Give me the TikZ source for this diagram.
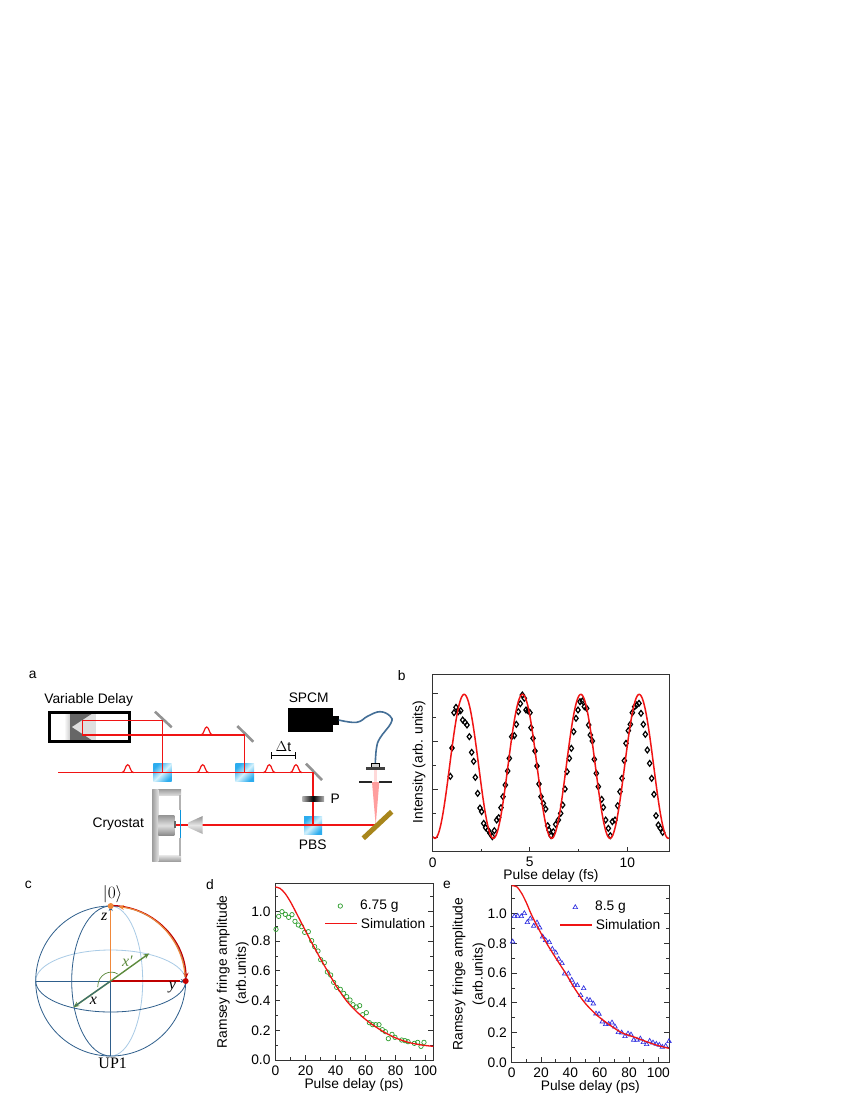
\documentclass[tikz,border=0pt]{standalone}
\usepackage{fontspec}
\setmainfont{Liberation Sans}
\newfontfamily\serifl{Liberation Serif}
\usetikzlibrary{arrows.meta,plotmarks,calc}
\definecolor{beam}{HTML}{F01414}
\definecolor{sph}{HTML}{2F5F8C}
\definecolor{sphl}{HTML}{A9CBE6}
\definecolor{oran}{HTML}{F0883A}
\definecolor{dred}{HTML}{C00000}
\definecolor{gre}{HTML}{5C8A3C}
\definecolor{axisc}{HTML}{333333}
\definecolor{dgreen}{HTML}{2E9E2E}
\definecolor{tblue}{HTML}{3030E0}
\definecolor{goldc}{HTML}{A8861C}
\definecolor{cubea}{HTML}{2CACEE}
\definecolor{cubeb}{HTML}{D4F1FC}
\tikzset{
 lab/.style={inner sep=0pt,font=\fontsize{13.8}{15}\selectfont},
 ser/.style={inner sep=0pt,font=\fontsize{16}{17}\selectfont\serifl},
 ray/.style={draw=beam,line width=1.4pt},
 rayb/.style={draw=beam,line width=1.5pt},
 ax/.style={draw=axisc,line width=0.9pt},
 cube/.style={top color=cubea,bottom color=cubea,middle color=cubeb,shading angle=45},
 mirror/.style={draw=gray!85,line width=2.6pt},
 simc/.style={draw=beam,line width=1.3pt},
 pics/pulse/.style={code={\draw[beam,line width=1.2pt] (-6,0) .. controls (-2.5,0) and (-2.5,-8) .. (0,-8) .. controls (2.5,-8) and (2.5,0) .. (6,0);}},
}
\begin{document}
\begin{tikzpicture}[x=1pt,y=-1pt]
\useasboundingbox (0,0) rectangle (850,1100);
\fill[white] (0,0) rectangle (850,1100);
% panel letters
\node[lab] (la) at (32.7,675) {a};
\node[lab] (lb) at (401.7,676) {b};
\node[lab] (lc) at (28.3,885) {c};
\node[lab] (ld) at (210,885) {d};
\node[lab] (le) at (447,885) {e};
% ---- panel a
\node[lab] (vd) at (88.7,700) {Variable Delay};
\shade[left color=white,right color=gray!40] (64,714) rectangle (70,740);
\fill[gray!25] (70,714) rectangle (96,740);
\fill[black!60] (70,714) -- (91.5,714) -- (71.7,727) -- (91.5,740) -- (70,740) -- cycle;
\draw[line width=3pt] (49.8,712.5) rectangle (129.2,741.8);
% cubes
\shade[cube] (153.3,763.3) rectangle (171.7,781.7);
\shade[cube] (235.3,763.3) rectangle (254,781.7);
\shade[cube] (304,816) rectangle (322,834.3);
% mirrors
\draw[mirror] (155,711.7) -- (171.7,727.3);
\draw[mirror] (237.3,726) -- (253.3,741.7);
\draw[mirror] (306,763.7) -- (322,780);
% beams
\coordinate (m0) at (58.3,772.7);
\coordinate (m1) at (162.3,772.7);
\coordinate (m2) at (244.3,772.7);
\coordinate (m3) at (313,772.7);
\coordinate (t1) at (162.3,720.7);
\coordinate (r1) at (82.7,720.7);
\coordinate (r2) at (82.7,735);
\coordinate (t2) at (244.3,735);
\coordinate (b1) at (313,825);
\coordinate (b2) at (375.7,825);
\coordinate (b3) at (202,825);
\coordinate (b4) at (176,825);
\coordinate (b5) at (188.5,825);
\draw[ray] (m0) -- (m3) -- (b1);
\draw[ray] (m1) -- (t1) -- (r1) -- (r2) -- (t2) -- (m2);
\draw[rayb] (b3) -- (b2);
\draw[rayb] (b4) -- (b5);
\pic at (127.7,772.7) {pulse};
\pic at (202.7,772.7) {pulse};
\pic at (206.7,735) {pulse};
\pic at (269.3,772.7) {pulse};
\pic at (296,772.7) {pulse};
% Delta t
\node[lab] (dt) at (283.3,747) {$\Delta$t};
\coordinate (dt1) at (270.7,755.7);
\coordinate (dt2) at (296,755.7);
\draw[line width=1.1pt,{Bar[width=7pt]}-{Bar[width=7pt]}] (dt1) -- (dt2);
% P
\shade[left color=gray!60,right color=gray!60,middle color=black] (302.3,796) rectangle (324,801.7);
\node[lab] (pp) at (335.3,798.3) {P};
\node[lab] (pbs) at (312.7,845) {PBS};
% SPCM
\node[lab] (spcm) at (308.7,698) {SPCM};
\fill[black] (288.3,708.3) rectangle (332.7,731.7);
\fill[black] (332.7,716) rectangle (338.7,725);
\draw[line width=1.6pt,color=sph!90!white] plot[smooth,tension=0.7] coordinates {(338.7,720) (356.7,722.3) (368,716) (380,711.7) (390,716) (391,723) (380,738) (376.5,748) (375.3,763.5)};
% pinhole optics
\fill[pink!70!red!80] (372,782) -- (379.3,782) -- (375.7,825) -- cycle;
\fill[pink!60] (374.3,769) rectangle (376.9,782);
\fill[gray!35] (371.5,763.5) rectangle (379.3,767);
\draw[black,line width=0.5pt] (371.5,763.5) rectangle (379.3,767);
\fill[black!75] (366,767) rectangle (385,769.5);
\fill[black!85] (359.3,781) rectangle (372,783.3);
\fill[black!85] (379.3,781) rectangle (391.7,783.3);
\draw[line width=5pt,color=goldc] (363.3,838.3) -- (391.7,811.7);
% Cryostat
\node[lab] (cry) at (118.3,824.3) {Cryostat};
\shade[top color=gray!75,bottom color=gray!25] (152.3,789.3) rectangle (181,795.7);
\shade[top color=gray!25,bottom color=gray!75] (152.3,855.7) rectangle (181,861);
\shade[left color=gray!75,right color=gray!25] (152.3,789.3) rectangle (158.3,861);
\fill[gray!60] (178.7,795) rectangle (181,810);
\fill[gray!60] (178.7,838.3) rectangle (181,856);
\draw[cyan!80!blue,line width=0.8pt] (180.3,810) -- (180.3,838.3);
\shade[top color=gray!80,bottom color=gray!90,middle color=gray!25] (158.3,815.7) rectangle (174.3,835);
\fill[black!60] (174.3,821) rectangle (176,828.3);
\shade[top color=gray!85,bottom color=gray!70,middle color=gray!20] (188.3,822.5) -- (202.7,816) -- (202.7,834) -- (188.3,827.5) -- cycle;
% ---- panel b
\draw[ax] (432.7,674.3) rectangle (669,851.7);
\foreach \yy in {693.7,741.7,789.3,837.7} \draw[ax] (432.7,\yy) -- (437.5,\yy);
\foreach \yy in {717.7,765.7,813.7} \draw[ax] (432.7,\yy) -- (435.7,\yy);
\foreach \xx in {432.7,529.9,627.1} \draw[ax] (\xx,851.7) -- (\xx,846.7);
\foreach \xx in {481.3,578.5} \draw[ax] (\xx,851.7) -- (\xx,848.7);
\node[lab] (bx0) at (432.7,862.3) {0};
\node[lab] (bx5) at (529.7,862.3) {5};
\node[lab] (bx10) at (627.3,862.3) {10};
\node[lab] (bxl) at (551,875.7) {Pulse delay (fs)};
\node[lab,rotate=90] (byl) at (419,762) {Intensity (arb. units)};
\begin{scope}[shift={(395,665)},x=0.33333pt,y=-0.33333pt]
\draw[black,line width=1.2pt] plot[only marks,mark=diamond,mark size=2.9pt,mark options={draw=black,fill=none,line width=1.2pt}] coordinates {(166,334) (171,249) (177,143) (183,127) (190,140) (197,137) (203,165) (210,172) (216,180) (223,215) (230,262) (236,289) (241,337) (248,385) (255,429) (260,440) (266,475) (272,488) (279,495) (285,505) (292,515) (298,497) (305,465) (311,458) (318,428) (324,395) (331,360) (338,318) (343,280) (350,215) (358,212) (364,178) (370,140) (376,116) (382,90) (388,100) (393,135) (399,137) (405,143) (408,188) (414,220) (420,258) (426,303) (432,357) (438,395) (445,415) (452,432) (458,482) (462,495) (468,512) (475,500) (482,478) (490,465) (497,445) (503,420) (510,372) (516,320) (523,280) (529,250) (536,200) (543,160) (549,135) (555,110) (562,108) (568,125) (575,130) (581,180) (586,210) (592,228) (598,283) (604,325) (610,365) (620,403) (625,427) (632,465) (640,490) (646,512) (652,470) (660,465) (668,422) (675,380) (681,340) (688,287) (693,235) (700,197) (706,178) (712,143) (719,125) (725,120) (732,115) (738,145) (745,178) (751,208) (757,255) (764,295) (770,340) (777,388) (783,452) (790,480) (796,490) (803,502)};
\draw[beam,line width=1.5pt] plot[domain=114:822,samples=240] (\x,{304+216*cos(2.05714*(\x-120))});
\end{scope}
% ---- panel c
\coordinate (C) at (110.7,981);
\coordinate (Ctop) at (110.7,906);
\coordinate (Cbot) at (110.7,1056);
\coordinate (Cl) at (35.7,981);
\coordinate (Cr) at (185.7,981);
\coordinate (Cxp) at (149.3,953.3);
\coordinate (Cx) at (73.3,1007.3);
\draw[sphl,line width=0.8pt] (Cr) arc[start angle=0,end angle=-180,x radius=75,y radius=31];
\draw[sphl,line width=0.8pt] (Ctop) arc[start angle=270,end angle=450,x radius=32,y radius=75];
\draw[sph,line width=0.8pt] (C) circle[radius=75];
\draw[sph,line width=0.8pt] (Cr) arc[start angle=0,end angle=180,x radius=75,y radius=31];
\draw[sph,line width=0.8pt] (Ctop) arc[start angle=270,end angle=90,x radius=39,y radius=75];
\draw[sph,line width=1pt] (Cl) -- (C);
\draw[sph,line width=1.1pt] (C) -- (Cbot);
\draw[sph,line width=1pt,-{Stealth[length=5pt,width=4pt]}] (C) -- (Ctop);
\draw[oran,line width=1.1pt] (C) -- ($(Ctop)+(0,4)$);
\draw[sph,line width=1pt,-{Stealth[length=5pt,width=4pt]}] (C) -- (Cr);
\draw[dred,line width=1.1pt] (C) -- ($(Cr)+(-6,0)$);
\draw[gre,line width=0.7pt] ($(C)+(-13,6)$) .. controls ($(C)+(-13,-7)$) and ($(C)+(0,-12)$) .. ($(C)+(7,-7)$);
\draw[gre,line width=1.4pt,-{Stealth[length=6pt,width=5pt]}] (C) -- (Cxp);
\draw[gre,line width=1.6pt,-{Stealth[length=6pt,width=5pt]}] (C) -- (Cx);
\draw[sph,line width=0.6pt] (C) -- ($(Cx)+(2,-1.5)$);
\draw[dred,line width=1.2pt,-{Stealth[length=5.5pt,width=5pt]}] ($(C)+(0,-75.5)$) arc[start angle=-90,end angle=-2,radius=75.5];
\draw[oran,line width=1.2pt,-{Stealth[length=5.5pt,width=5pt]}] ($(C)+(74.4,-4)$) arc[start angle=-3,end angle=-84,radius=74.5];
\fill[oran] (Ctop) circle[radius=3];
\fill[dred!90!red] (Cr) circle[radius=3];
\node[ser,font=\fontsize{17.3}{18}\selectfont] (ket) at (112.7,894) {$|0\rangle$};
\node[ser] (up1) at (112.7,1063.5) {UP1};
\node[ser] (lz) at (104.3,917) {\itshape z};
\node[ser,text=gre] (lxp) at (127.3,961) {\itshape x′};
\node[ser] (lx) at (93.3,1001) {\itshape x};
\node[ser] (ly) at (172.3,987.7) {\itshape y};
% ---- panel d
\draw[ax] (275.3,883.3) rectangle (433.3,1060);
\foreach \i/\t in {0/0.0,1/0.2,2/0.4,3/0.6,4/0.8,5/1.0}{
 \pgfmathsetmacro{\yy}{1060-29.7*\i}
 \draw[ax] (275.3,\yy) -- (280.3,\yy);
 \draw[ax] (433.3,\yy) -- (428.3,\yy);
 \node[lab,anchor=east] (dy\i) at (270.7,\yy) {\t};
}
\foreach \i in {0,...,5}{
 \pgfmathsetmacro{\yy}{1060-14.85-29.7*\i}
 \draw[ax] (275.3,\yy) -- (278.3,\yy);
 \draw[ax] (433.3,\yy) -- (430.3,\yy);
}
\foreach \i/\t in {0/0,1/20,2/40,3/60,4/80,5/100}{
 \pgfmathsetmacro{\xx}{275.5+30*\i}
 \draw[ax] (\xx,1060) -- (\xx,1055);
 \node[lab] (dx\i) at (\xx,1070.7) {\t};
}
\foreach \i in {0,...,4}{
 \pgfmathsetmacro{\xx}{275.5+15+30*\i}
 \draw[ax] (\xx,1060) -- (\xx,1057);
}
\node[lab] (dxl) at (354,1084.5) {Pulse delay (ps)};
\node[lab,rotate=90] (dyl1) at (223.3,971.7) {Ramsey fringe amplitude};
\node[lab,rotate=90] (dyl2) at (242.3,973) {(arb.units)};
\begin{scope}[shift={(205,875)},x=0.33333pt,y=-0.33333pt]
\draw[dgreen] plot[only marks,mark=o,mark size=2.2pt,mark options={draw=dgreen,line width=0.7pt}] coordinates {(213,163) (221,124) (231,110) (241,118) (251,127) (261,119) (270,139) (280,150) (290,155) (299,172) (310,170) (320,197) (329,215) (339,228) (347,254) (358,263) (367,291) (377,300) (386,322) (395,337) (406,343) (416,355) (425,365) (435,375) (444,389) (454,396) (464,392) (473,419) (484,413) (493,443) (503,449) (512,449) (522,449) (532,464) (541,470) (550,491) (561,478) (570,487) (590,495) (600,497) (609,500) (628,505) (638,502) (648,514) (657,502)};
\draw[simc] plot[smooth] coordinates {(211,36) (225,40) (240,55) (255,78) (272,110) (295,155) (318,199) (343,245) (368,289) (395,335) (425,378) (455,410) (490,440) (530,467) (570,488) (610,502) (650,510) (685,514)};
\end{scope}
\draw[dgreen] plot[only marks,mark=o,mark size=2.2pt,mark options={draw=dgreen,line width=0.7pt}] coordinates {(340.3,906)};
\node[lab,anchor=west] (dleg1) at (360,906) {6.75 g};
\coordinate (dl1) at (325,923.3);
\coordinate (dl2) at (356.7,923.3);
\draw[simc] (dl1) -- (dl2);
\node[lab,anchor=west] (dleg2) at (360.7,923.3) {Simulation};
% ---- panel e
\draw[ax] (511.7,885) rectangle (669,1062.3);
\foreach \i/\t in {0/0.0,1/0.2,2/0.4,3/0.6,4/0.8,5/1.0}{
 \pgfmathsetmacro{\yy}{1062.3-29.73*\i}
 \draw[ax] (511.7,\yy) -- (516.7,\yy);
 \draw[ax] (669,\yy) -- (664,\yy);
 \node[lab,anchor=east] (ey\i) at (507,\yy) {\t};
}
\foreach \i in {0,...,5}{
 \pgfmathsetmacro{\yy}{1062.3-14.87-29.73*\i}
 \draw[ax] (511.7,\yy) -- (514.7,\yy);
 \draw[ax] (669,\yy) -- (666,\yy);
}
\foreach \i/\t in {0/0,1/20,2/40,3/60,4/80,5/100}{
 \pgfmathsetmacro{\xx}{511.7+29.33*\i}
 \draw[ax] (\xx,1062.3) -- (\xx,1057.3);
 \node[lab] (ex\i) at (\xx,1073) {\t};
}
\foreach \i in {0,...,4}{
 \pgfmathsetmacro{\xx}{511.7+14.67+29.33*\i}
 \draw[ax] (\xx,1062.3) -- (\xx,1059.3);
}
\node[lab] (exl) at (590.3,1086.5) {Pulse delay (ps)};
\node[lab,rotate=90] (eyl1) at (459,974) {Ramsey fringe amplitude};
\node[lab,rotate=90] (eyl2) at (479,974) {(arb.units)};
\begin{scope}[shift={(445,875)},x=0.33333pt,y=-0.33333pt]
\draw[tblue] plot[only marks,mark=triangle,mark size=2.6pt,mark options={draw=tblue,line width=0.7pt}] coordinates {(203,200) (208,124) (218,123) (229,124) (238,115) (247,142) (256,131) (266,153) (276,143) (284,158) (293,185) (302,196) (313,202) (322,222) (332,233) (341,252) (351,265) (359,296) (370,296) (380,315) (388,330) (397,331) (407,361) (416,340) (426,374) (435,376) (445,386) (453,416) (462,417) (472,440) (482,448) (491,447) (501,443) (510,455) (520,472) (530,473) (540,484) (549,476) (558,479) (566,495) (576,495) (586,491) (595,502) (605,508) (614,498) (624,503) (634,507) (643,510) (652,516) (662,513) (672,499)};
\draw[simc] plot[smooth] coordinates {(200,32) (215,35) (230,55) (245,85) (258,116) (280,160) (305,205) (333,250) (362,295) (390,342) (420,384) (455,420) (490,447) (530,473) (570,487) (610,502) (640,512) (672,520)};
\end{scope}
\draw[tblue] plot[only marks,mark=triangle,mark size=2.6pt,mark options={draw=tblue,line width=0.7pt}] coordinates {(575.3,907.3)};
\node[lab,anchor=west] (eleg1) at (595,907.3) {8.5 g};
\coordinate (el1) at (560,925);
\coordinate (el2) at (591.7,925);
\draw[simc] (el1) -- (el2);
\node[lab,anchor=west] (eleg2) at (595.7,925) {Simulation};
\end{tikzpicture}
\end{document}
